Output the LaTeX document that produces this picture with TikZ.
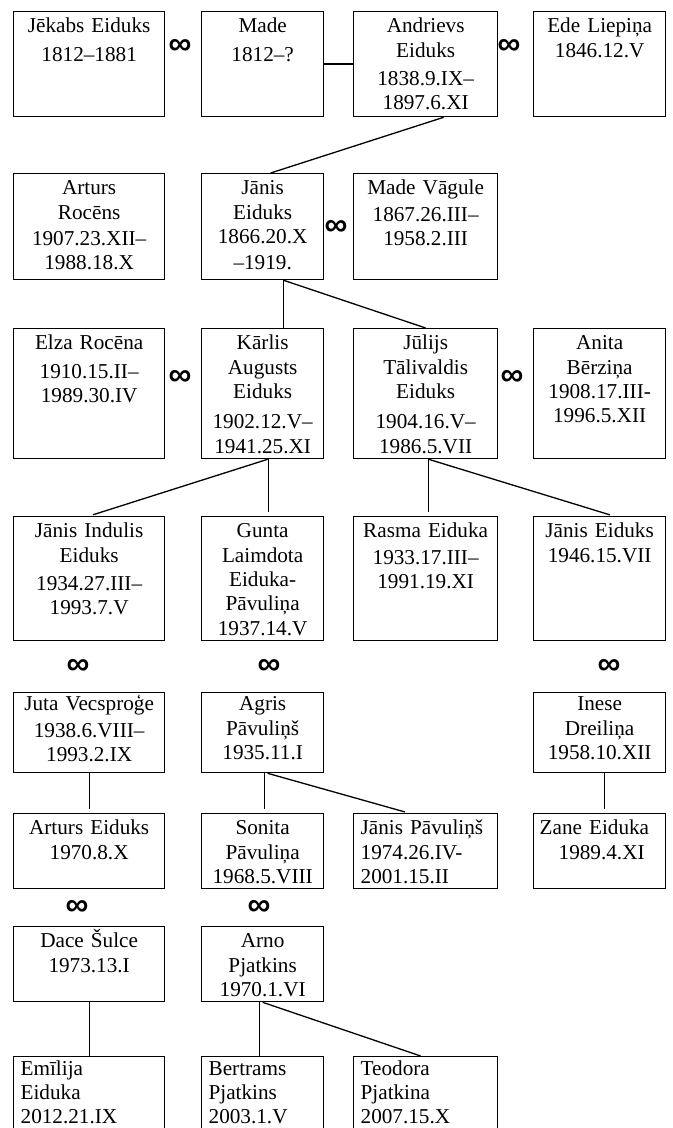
\documentclass[tikz,border=0pt]{standalone}
\usepackage{fontspec}
\setmainfont{Liberation Serif}
\newfontfamily\infsymbol{Liberation Sans}
\usetikzlibrary{calc}
\tikzset{
	person/.style={draw, line width=0.65pt, anchor=north west, inner sep=0pt, align=center, text height=10.5pt, font=\fontsize{10.6pt}{12.2pt}\selectfont},
	personleft/.style={person, align=left},
	colA/.style={text width=75.5pt}, colB/.style={text width=61pt},
	colC/.style={text width=72pt}, colD/.style={text width=66pt},
	rowA/.style={text depth=42pt}, rowB/.style={text depth=42.5pt},
	rowC/.style={text depth=54.5pt}, rowD/.style={text depth=51.5pt},
	rowE/.style={text height=9pt, text depth=31pt}, rowF/.style={text depth=27pt},
	rowG/.style={text depth=27pt}, rowH/.style={text height=9.5pt, text depth=40.5pt, font=\fontsize{10.6pt}{11.9pt}\selectfont},
	marriage/.style={inner sep=0pt, font=\infsymbol\bfseries\fontsize{16pt}{16pt}\selectfont},
	link/.style={line width=0.65pt},
	linkgap/.style={link, shorten >=2pt}
}
\def\ind{\hspace*{3.5pt}}

\begin{document}
\begin{tikzpicture}[x=0.5pt, y=-0.5pt]
		%%%%% START %%%%%
		\useasboundingbox (0, 0) rectangle (673, 1128);
		\clip (0, 0) rectangle (673, 1128);
		
		\node[person, colA, rowA] (jekabs) at (13, 11) {Jēkabs Eiduks\\[2pt]1812–1881};
		\node[person, colB, rowA] (made) at (201, 11) {Made\\[2pt]1812–?};
		\node[person, colC, rowA] (andrievs) at (353, 11) {Andrievs\\Eiduks\\[2pt]1838.9.IX–\\1897.6.XI};
		\node[person, colD, rowA] (ede) at (533, 11) {Ede Liepiņa\\1846.12.V};
		
		\node[person, colA, rowB] (arturs) at (13, 173) {Arturs\\Rocēns\\[1pt]1907.23.XII–\\1988.18.X};
		\node[person, colB, rowB] (janis) at (201, 173) {Jānis\\Eiduks\\1866.20.X\\[1pt]–1919.};
		\node[person, colC, rowB] (madev) at (353, 173) {Made Vāgule\\[1pt]1867.26.III–\\1958.2.III};
		
		\node[person, colA, rowC] (elza) at (13, 328) {Elza Rocēna\\[2pt]1910.15.II–\\1989.30.IV};
		\node[person, colB, rowC] (karlis) at (201, 328) {Kārlis\\Augusts\\Eiduks\\[3pt]1902.12.V–\\1941.25.XI};
		\node[person, colC, rowC] (julijs) at (353, 328) {Jūlijs\\Tālivaldis\\Eiduks\\[3pt]1904.16.V–\\1986.5.VII};
		\node[person, colD, rowC] (anita) at (533, 328) {Anita\\Bērziņa\\1908.17.III-\\1996.5.XII};
		
		\node[person, colA, rowD] (jindulis) at (13, 516) {Jānis Indulis\\Eiduks\\[2pt]1934.27.III–\\1993.7.V};
		\node[person, colB, rowD] (gunta) at (201, 516) {Gunta\\Laimdota\\Eiduka-\\Pāvuliņa\\1937.14.V};
		\node[person, colC, rowD] (rasma) at (353, 516) {Rasma Eiduka\\[1pt]1933.17.III–\\1991.19.XI};
		\node[person, colD, rowD] (jeiduks) at (533, 516) {Jānis Eiduks\\1946.15.VII};
		
		\node[person, colA, rowE] (juta) at (13, 692) {Juta Vecsproģe\\[1pt]1938.6.VIII–\\1993.2.IX};
		\node[person, colB, rowE] (agris) at (201, 692) {Agris\\Pāvuliņš\\1935.11.I};
		\node[person, colD, rowE] (inese) at (533, 692) {Inese\\Dreiliņa\\1958.10.XII};
		
		\node[person, colA, rowF] (arturse) at (13, 813) {Arturs Eiduks\\1970.8.X};
		\node[person, colB, rowF] (sonita) at (201, 813) {Sonita\\Pāvuliņa\\1968.5.VIII};
		\node[personleft, colC, rowF] (jpavulins) at (353, 813) {\ind Jānis Pāvuliņš\\\ind 1974.26.IV-\\\ind 2001.15.II};
		\node[personleft, colD, rowF] (zane) at (533, 813) {\hspace*{3pt}Zane Eiduka\\\hspace*{12.5pt}1989.4.XI};
		
		\node[person, colA, rowG] (dace) at (13, 926) {Dace Šulce\hspace*{8pt}\\1973.13.I\hspace*{8pt}};
		\node[person, colB, rowG] (arno) at (201, 926) {Arno\hspace*{8pt}\\Pjatkins\hspace*{8pt}\\1970.1.VI\hspace*{8pt}};
		
		\node[personleft, colA, rowH] (emilija) at (13, 1056) {\ind Emīlija\\\ind Eiduka\\\ind 2012.21.IX};
		\node[personleft, colB, rowH] (bertrams) at (201, 1056) {\ind Bertrams\\\ind Pjatkins\\\ind 2003.1.V};
		\node[personleft, colC, rowH] (teodora) at (353, 1056) {\ind Teodora\\\ind Pjatkina\\\ind 2007.15.X};
		
		% marriages
		\node[marriage] (m1) at (180, 47) {∞};
		\node[marriage] (m2) at (509, 47) {∞};
		\node[marriage] (m3) at (336, 228) {∞};
		\node[marriage] (m4) at (180, 378) {∞};
		\node[marriage] (m5) at (512, 378) {∞};
		\node[marriage] (m6) at (78, 667) {∞};
		\node[marriage] (m7) at (269, 667) {∞};
		\node[marriage] (m8) at (609, 667) {∞};
		\node[marriage] (m9) at (77, 908) {∞};
		\node[marriage] (m10) at (259, 908) {∞};
		
		% descent
		\draw[link] (made.east) -- (andrievs.west);
		\draw[link] ($(andrievs.south)+(18,0)$) -- ($(janis.north)+(8,0)$);
		\draw[link] ($(janis.south)+(21,0)$) -- ($(karlis.north)+(21,0)$);
		\draw[link] ($(janis.south)+(21,0)$) -- (julijs.north);
		\draw[linkgap] ($(karlis.south)+(5,0)$) -- (jindulis.north);
		\draw[linkgap] ($(karlis.south)+(6,0)$) -- ($(gunta.north)+(6,0)$);
		\draw[linkgap] ($(julijs.south)+(3,0)$) -- ($(rasma.north)+(3,0)$);
		\draw[linkgap] ($(julijs.south)+(3,0)$) -- ($(jeiduks.north)+(14,0)$);
		\draw[linkgap] (juta.south) -- (arturse.north);
		\draw[linkgap] ($(agris.south)+(2,0)$) -- ($(sonita.north)+(2,0)$);
		\draw[linkgap] ($(agris.south)+(5,0)$) -- ($(jpavulins.north)+(-17,0)$);
		\draw[linkgap] ($(inese.south)+(5,0)$) -- ($(zane.north)+(5,0)$);
		\draw[link] (dace.south) -- (emilija.north);
		\draw[link] ($(arno.south)+(-3,0)$) -- ($(bertrams.north)+(-3,0)$);
		\draw[link] (arno.south) -- ($(teodora.north)+(-5,0)$);
		
		%%%%% END %%%%%
\end{tikzpicture}
\end{document}
